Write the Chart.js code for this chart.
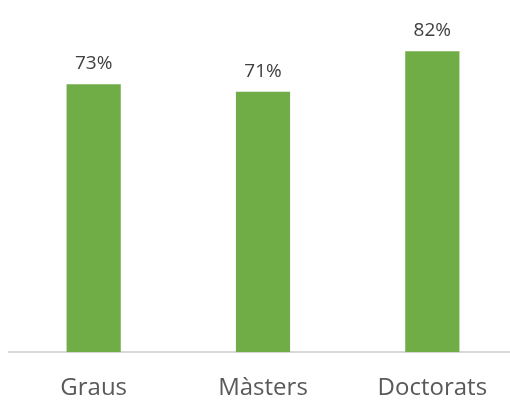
<!DOCTYPE html>
<html>
<head>
<meta charset="utf-8">
<script src="https://cdn.jsdelivr.net/npm/chart.js@4"></script>
<style>
  html, body { margin: 0; padding: 0; background: #fff; overflow: hidden; }
  #wrap { width: 517px; height: 413px; }
</style>
</head>
<body>
<div id="wrap"><canvas id="chart"></canvas></div>
<script>
const categories = ['Graus', 'Màsters', 'Doctorats'];
const values = [73, 71, 82];
const valueLabels = ['73%', '71%', '82%'];

// draws the percentage above each bar
const barLabels = {
    id: 'barLabels',
    afterDatasetsDraw(chart) {
        const ctx = chart.ctx;
        const meta = chart.getDatasetMeta(0);
        ctx.save();
        ctx.font = '19px "Open Sans", sans-serif';
        ctx.fillStyle = '#404040';
        ctx.textAlign = 'center';
        ctx.textBaseline = 'bottom';
        meta.data.forEach((bar, i) => {
            ctx.fillText(valueLabels[i], bar.x, bar.y - 11);
        });
        ctx.restore();
    }
};

const ctx = document.getElementById('chart').getContext('2d');
new Chart(ctx, {
    type: 'bar',
    data: {
        labels: categories,
        datasets: [{
            data: values,
            backgroundColor: '#70AD47',
            barPercentage: 0.32,
            categoryPercentage: 1
        }]
    },
    options: {
        responsive: true,
        maintainAspectRatio: false,
        animation: false,
        layout: { padding: { top: 22, left: 9, right: 0, bottom: -12 } },
        plugins: { legend: { display: false }, tooltip: { enabled: false } },
        scales: {
            x: {
                grid: { display: false, drawTicks: false },
                border: { color: '#D9D9D9', width: 2 },
                ticks: {
                    color: '#595959',
                    font: { family: '"Open Sans", sans-serif', size: 24 },
                    padding: 22
                }
            },
            y: {
                display: false,
                min: 0,
                max: 90
            }
        }
    },
    plugins: [barLabels]
});
</script>
</body>
</html>
